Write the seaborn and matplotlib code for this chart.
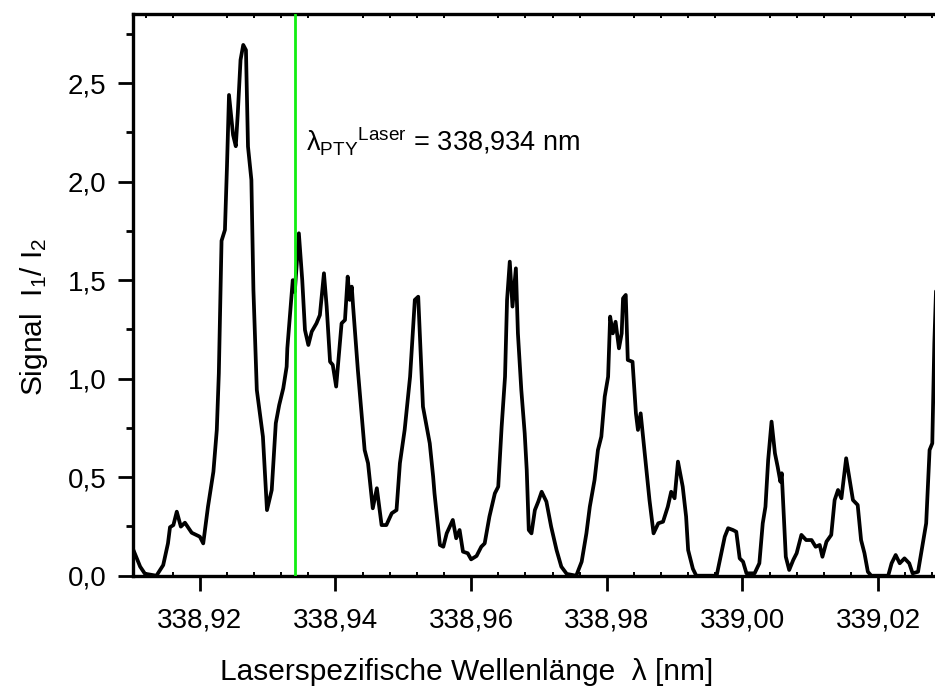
import numpy as np
import pandas as pd
import matplotlib
matplotlib.use("Agg")
import matplotlib.pyplot as plt
import seaborn as sns
from matplotlib.ticker import MultipleLocator, FuncFormatter

# ---- data ----
wavelength = [
    338.9101, 338.9112, 338.9119, 338.9136, 338.9146, 338.9153, 338.9156, 338.9161,
    338.9166, 338.9172, 338.9178, 338.9188, 338.9200, 338.9205, 338.9212, 338.9220,
    338.9225, 338.9228, 338.9232, 338.9237, 338.9240, 338.9243, 338.9249, 338.9253,
    338.9256, 338.9260, 338.9264, 338.9268, 338.9271, 338.9276, 338.9279, 338.9284,
    338.9293, 338.9299, 338.9306, 338.9312, 338.9317, 338.9323, 338.9328, 338.9329,
    338.9337, 338.9340, 338.9346, 338.9351, 338.9355, 338.9360, 338.9365, 338.9372,
    338.9377, 338.9383, 338.9387, 338.9392, 338.9396, 338.9401, 338.9409, 338.9414,
    338.9418, 338.9421, 338.9424, 338.9426, 338.9433, 338.9443, 338.9448, 338.9455,
    338.9461, 338.9468, 338.9475, 338.9483, 338.9490, 338.9495, 338.9502, 338.9510,
    338.9517, 338.9522, 338.9529, 338.9539, 338.9544, 338.9546, 338.9554, 338.9559,
    338.9564, 338.9573, 338.9578, 338.9583, 338.9588, 338.9595, 338.9600, 338.9608,
    338.9615, 338.9620, 338.9627, 338.9635, 338.9640, 338.9645, 338.9650, 338.9653,
    338.9657, 338.9661, 338.9666, 338.9669, 338.9674, 338.9679, 338.9682, 338.9685,
    338.9689, 338.9694, 338.9699, 338.9704, 338.9711, 338.9718, 338.9726, 338.9733,
    338.9741, 338.9755, 338.9763, 338.9770, 338.9775, 338.9782, 338.9787, 338.9792,
    338.9797, 338.9802, 338.9805, 338.9809, 338.9813, 338.9818, 338.9822, 338.9824,
    338.9828, 338.9831, 338.9838, 338.9843, 338.9846, 338.9850, 338.9856, 338.9863,
    338.9869, 338.9876, 338.9883, 338.9890, 338.9895, 338.9900, 338.9905, 338.9912,
    338.9917, 338.9920, 338.9927, 338.9932, 338.9962, 338.9969, 338.9974, 338.9979,
    338.9986, 338.9991, 338.9996, 339.0001, 339.0006, 339.0018, 339.0025, 339.0030,
    339.0034, 339.0038, 339.0043, 339.0048, 339.0052, 339.0056, 339.0058, 339.0064,
    339.0069, 339.0075, 339.0080, 339.0087, 339.0094, 339.0102, 339.0108, 339.0114,
    339.0118, 339.0124, 339.0131, 339.0136, 339.0141, 339.0146, 339.0153, 339.0163,
    339.0170, 339.0175, 339.0180, 339.0185, 339.0190, 339.0215, 339.0220, 339.0226,
    339.0232, 339.0239, 339.0246, 339.0251, 339.0259, 339.0266, 339.0271, 339.0276,
    339.0280, 339.0283, 339.0286,
]
signal = [
    0.139, 0.046, 0.010, 0.000, 0.054, 0.164, 0.246, 0.257,
    0.325, 0.249, 0.269, 0.218, 0.198, 0.164, 0.350, 0.528,
    0.740, 1.027, 1.700, 1.755, 2.076, 2.440, 2.237, 2.180,
    2.350, 2.618, 2.694, 2.668, 2.178, 2.009, 1.450, 0.943,
    0.706, 0.333, 0.435, 0.774, 0.866, 0.951, 1.061, 1.154,
    1.500, 1.440, 1.738, 1.500, 1.247, 1.171, 1.239, 1.281,
    1.323, 1.535, 1.366, 1.086, 1.070, 0.960, 1.281, 1.298,
    1.518, 1.400, 1.467, 1.366, 1.044, 0.638, 0.571, 0.342,
    0.444, 0.257, 0.257, 0.317, 0.333, 0.571, 0.740, 1.010,
    1.400, 1.416, 0.858, 0.672, 0.503, 0.418, 0.156, 0.147,
    0.215, 0.283, 0.190, 0.232, 0.122, 0.114, 0.083, 0.100,
    0.147, 0.164, 0.300, 0.418, 0.452, 0.756, 1.010, 1.400,
    1.594, 1.366, 1.560, 1.230, 0.943, 0.723, 0.537, 0.232,
    0.215, 0.333, 0.376, 0.426, 0.376, 0.249, 0.130, 0.046,
    0.009, 0.000, 0.071, 0.215, 0.350, 0.486, 0.638, 0.706,
    0.909, 1.010, 1.315, 1.230, 1.289, 1.154, 1.230, 1.408,
    1.425, 1.095, 1.086, 0.824, 0.740, 0.824, 0.621, 0.384,
    0.215, 0.266, 0.274, 0.350, 0.426, 0.393, 0.579, 0.452,
    0.300, 0.130, 0.035, 0.000, 0.000, 0.114, 0.198, 0.241,
    0.232, 0.223, 0.088, 0.071, 0.012, 0.012, 0.063, 0.266,
    0.350, 0.587, 0.782, 0.621, 0.553, 0.477, 0.520, 0.096,
    0.029, 0.080, 0.114, 0.207, 0.181, 0.181, 0.147, 0.156,
    0.096, 0.173, 0.207, 0.384, 0.435, 0.393, 0.596, 0.384,
    0.359, 0.181, 0.114, 0.020, 0.000, 0.000, 0.063, 0.105,
    0.063, 0.088, 0.063, 0.012, 0.020, 0.164, 0.266, 0.638,
    0.672, 1.180, 1.500,
]
laser_wavelength = 338.934
x_ticks = [338.92, 338.94, 338.96, 338.98, 339.00, 339.02]
y_ticks = [0.0, 0.5, 1.0, 1.5, 2.0, 2.5]

df = pd.DataFrame({"wavelength": wavelength, "signal": signal})

sns.set_style("ticks")
plt.rcParams["font.family"] = ["Liberation Sans", "DejaVu Sans"]
plt.rcParams["mathtext.fontset"] = "custom"
plt.rcParams["mathtext.rm"] = "Liberation Sans"
plt.rcParams["mathtext.it"] = "Liberation Sans"
plt.rcParams["mathtext.bf"] = "Liberation Sans:bold"
plt.rcParams["text.color"] = "black"
plt.rcParams["axes.labelcolor"] = "black"
plt.rcParams["xtick.color"] = "black"
plt.rcParams["ytick.color"] = "black"

fig = plt.figure(figsize=(9.35, 6.9), dpi=100)
ax = fig.add_axes([132.7 / 935, 1 - 575.7 / 690, 1 - 132.7 / 935, (575.7 - 14) / 690])

sns.lineplot(data=df, x="wavelength", y="signal", ax=ax, color="black",
             linewidth=2.7, estimator=None, sort=False, zorder=3)
ax.axvline(laser_wavelength, color="#11ee11", linewidth=2.0, zorder=4)

ax.set_xlim(338.9101, 339.0284)
ax.set_ylim(0, 2.851)

fmt = FuncFormatter(lambda v, p: f"{v:.2f}".replace(".", ","))
fmty = FuncFormatter(lambda v, p: f"{v:.1f}".replace(".", ","))
ax.set_xticks(x_ticks)
ax.set_yticks(y_ticks)
ax.xaxis.set_major_formatter(fmt)
ax.yaxis.set_major_formatter(fmty)
ax.xaxis.set_minor_locator(MultipleLocator(0.004))
ax.yaxis.set_minor_locator(MultipleLocator(0.25))

ax.tick_params(axis="x", which="major", direction="out", length=11, width=2.0,
               labelsize=20, pad=12, top=False)
ax.tick_params(axis="x", which="minor", direction="in", length=3, width=1.4,
               top=True, bottom=True)
ax.tick_params(axis="y", which="major", direction="out", length=11, width=2.0,
               labelsize=20, pad=8, right=False)
ax.tick_params(axis="y", which="minor", direction="out", length=5, width=2.0,
               right=False)

for side in ["left", "bottom", "top"]:
    ax.spines[side].set_linewidth(2.4)
    ax.spines[side].set_color("black")
ax.spines["right"].set_visible(False)

ax.set_xlabel("Laserspezifische Wellenlänge  λ [nm]", fontsize=21.5)
ax.set_ylabel(r"Signal  I$_1$/ I$_2$", fontsize=21.5)
ax.xaxis.set_label_coords((467 - 132.7) / 802.3, -(658 - 575.7) / 561.7)
ax.yaxis.set_label_coords((50 - 132.7) / 802.3, (575.7 - 317) / 561.7)

ax.text(338.9357, 2.155, r"$\mathregular{\lambda_{PTY}{}^{Laser}}$ = 338,934 nm",
        fontsize=19.5, va="baseline", ha="left")

fig.savefig("out.png", dpi=100)
